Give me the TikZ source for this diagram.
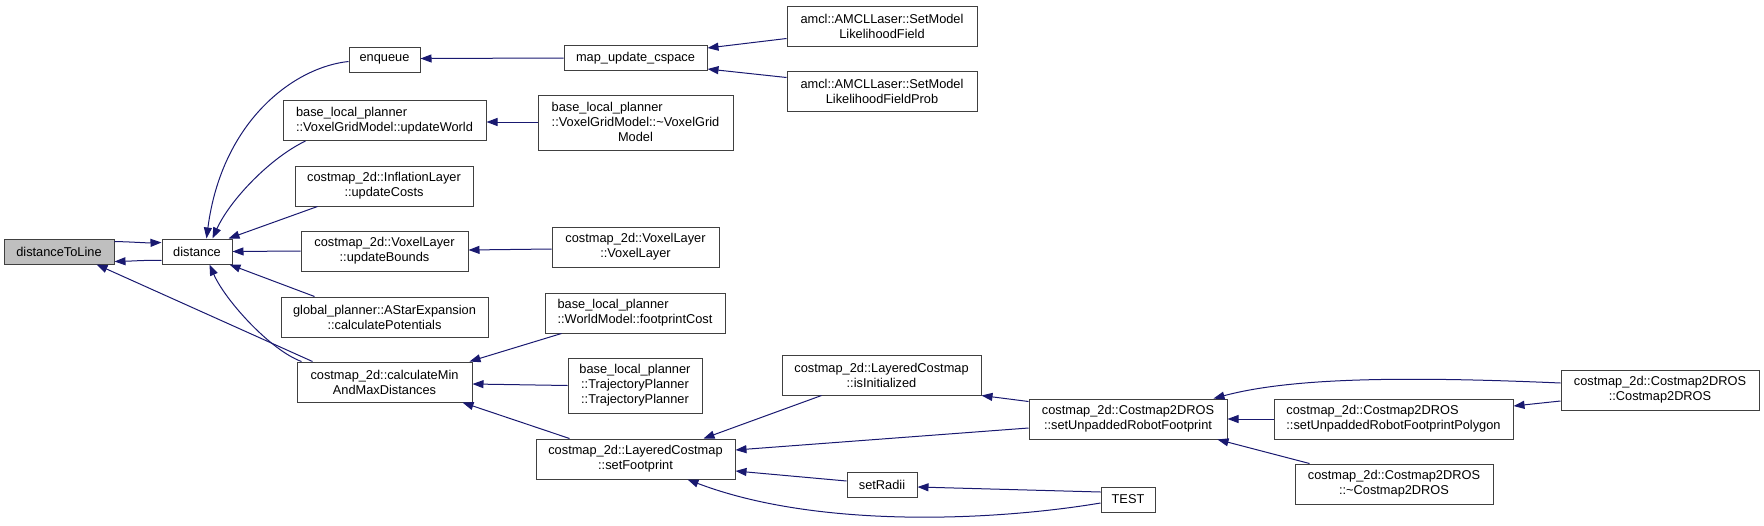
\documentclass[tikz,border=0pt]{standalone}
\usepackage{fontspec}
\setmainfont{Liberation Sans}
\usetikzlibrary{arrows.meta,calc}
\definecolor{edgeblue}{HTML}{191970}
\definecolor{boxline}{HTML}{404040}
\definecolor{curfill}{HTML}{BFBFBF}
\begin{document}
\begin{tikzpicture}[x=1pt,y=-1pt,
  fn/.style={draw=boxline,line width=1pt,fill=white,inner sep=0pt,align=center,
    font=\fontsize{12.8}{15}\selectfont},
  fnl/.style={fn,align=left},
  cur/.style={fn,fill=curfill},
  edge/.style={draw=edgeblue,line width=1pt,-{Triangle[length=11pt,width=8pt]}}]
\useasboundingbox (0,0) rectangle (1764,525);

% nodes
\node[cur,minimum width=110pt,minimum height=25pt] (dtl) at (59,251.5) {distanceToLine};
\node[fn,minimum width=70pt,minimum height=25pt] (dist) at (197,251.5) {distance};
\node[fn,minimum width=71pt,minimum height=25pt] (enq) at (384.5,59.5) {enqueue};
\node[fn,minimum width=143pt,minimum height=25pt] (mup) at (635.5,58) {map\_update\_cspace};
\node[fn,minimum width=190pt,minimum height=40pt] (lf) at (882,26) {amcl::AMCLLaser::SetModel\\LikelihoodField};
\node[fn,minimum width=190pt,minimum height=40pt] (lfp) at (882,91) {amcl::AMCLLaser::SetModel\\LikelihoodFieldProb};
\node[fnl,minimum width=203pt,minimum height=40pt] (uw) at (384.5,120.5) {base\_local\_planner\\::VoxelGridModel::updateWorld};
\node[fn,minimum width=195pt,minimum height=55pt] (vgm) at (635.5,123) {\begin{tabular}{@{}l@{}}base\_local\_planner\\::VoxelGridModel::\textasciitilde VoxelGrid\\\multicolumn{1}{@{}c@{}}{Model}\end{tabular}};
\node[fn,minimum width=178pt,minimum height=40pt] (infl) at (384,186) {costmap\_2d::InflationLayer\\::updateCosts};
\node[fn,minimum width=167pt,minimum height=40pt] (ub) at (384.5,251) {costmap\_2d::VoxelLayer\\::updateBounds};
\node[fn,minimum width=167pt,minimum height=40pt] (vl) at (635.5,247) {costmap\_2d::VoxelLayer\\::VoxelLayer};
\node[fn,minimum width=207pt,minimum height=40pt] (astar) at (384.5,317) {global\_planner::AStarExpansion\\::calculatePotentials};
\node[fn,minimum width=175pt,minimum height=40pt] (cmin) at (384.5,382) {costmap\_2d::calculateMin\\AndMaxDistances};
\node[fnl,minimum width=180pt,minimum height=40pt] (wm) at (635,313) {base\_local\_planner\\::WorldModel::footprintCost};
\node[fn,minimum width=134pt,minimum height=55pt] (tp) at (635,385.5) {base\_local\_planner\\::TrajectoryPlanner\\::TrajectoryPlanner};
\node[fn,minimum width=199pt,minimum height=40pt] (sf) at (635.5,459) {costmap\_2d::LayeredCostmap\\::setFootprint};
\node[fn,minimum width=199pt,minimum height=40pt] (isi) at (881.5,375) {costmap\_2d::LayeredCostmap\\::isInitialized};
\node[fn,minimum width=70pt,minimum height=25pt] (sr) at (882,484.5) {setRadii};
\node[fn,minimum width=198pt,minimum height=40pt] (sur) at (1128,419) {costmap\_2d::Costmap2DROS\\::setUnpaddedRobotFootprint};
\node[fn,minimum width=54pt,minimum height=25pt] (test) at (1128,499.5) {TEST};
\node[fnl,minimum width=239pt,minimum height=40pt] (poly) at (1393.5,419) {costmap\_2d::Costmap2DROS\\::setUnpaddedRobotFootprintPolygon};
\node[fn,minimum width=198pt,minimum height=40pt] (dcm) at (1394,484) {costmap\_2d::Costmap2DROS\\::\textasciitilde Costmap2DROS};
\node[fn,minimum width=198pt,minimum height=40pt] (cm) at (1660,390) {costmap\_2d::Costmap2DROS\\::Costmap2DROS};

% edges (arrow tip at the called function)
\draw[edge] ($(dtl.north east)+(0,3)$) .. controls (135,242) and (145,243) .. ($(dist.north west)+(0,4)$);
\draw[edge] ($(dist.south west)+(0,-4)$) .. controls (145,260) and (135,261) .. ($(dtl.south east)+(0,-3)$);
\draw[edge] ($(cmin.north west)+(16,0)$) -- ($(dtl.south west)+(93,0)$);
\draw[edge] ($(enq.west)+(0,2)$) .. controls (295,67) and (222,120) .. ($(dist.north west)+(45,0)$);
\draw[edge] ($(uw.south west)+(23,0)$) .. controls (270,158) and (230,200) .. ($(dist.north west)+(51,0)$);
\draw[edge] ($(infl.south west)+(23,0)$) -- ($(dist.north east)+(-4,0)$);
\draw[edge] (ub.west) -- (dist.east);
\draw[edge] ($(astar.north west)+(34,0)$) -- ($(dist.south east)+(-3,0)$);
\draw[edge] ($(cmin.north west)+(5,0)$) .. controls (270,350) and (225,300) .. ($(dist.south west)+(48,0)$);
\draw[edge] (mup.west) -- ($(enq.east)+(0,-1)$);
\draw[edge] ($(lf.south west)+(0,-8)$) -- ($(mup.north east)+(0,3)$);
\draw[edge] ($(lfp.north west)+(0,7)$) -- ($(mup.south east)+(0,-2)$);
\draw[edge] ($(vgm.west)+(0,-1)$) -- ($(uw.east)+(0,1.5)$);
\draw[edge] ($(vl.west)+(0,2)$) -- ($(ub.east)+(0,-1)$);
\draw[edge] ($(wm.south west)+(17,0)$) -- ($(cmin.north east)+(-3,0)$);
\draw[edge] (tp.west) -- ($(cmin.east)+(0,2)$);
\draw[edge] ($(sf.north west)+(34,0)$) -- ($(cmin.south east)+(-10,0)$);
\draw[edge] ($(isi.south west)+(40,0)$) -- ($(sf.north east)+(-32,0)$);
\draw[edge] ($(sur.west)+(0,9)$) -- ($(sf.east)+(0,-9)$);
\draw[edge] ($(sr.west)+(0,-3.5)$) -- ($(sf.east)+(0,12)$);
\draw[edge] ($(test.west)+(0,3.5)$) .. controls (1000,520) and (820,530) .. ($(sf.south east)+(-48,0)$);
\draw[edge] ($(test.west)+(0,-7.5)$) -- ($(sr.east)+(0,2.5)$);
\draw[edge] ($(sur.north west)+(0,3)$) -- (isi.south east);
\draw[edge] (poly.west) -- (sur.east);
\draw[edge] ($(dcm.north west)+(15,0)$) -- ($(sur.south east)+(-10,0)$);
\draw[edge] ($(cm.west)+(0,-7)$) .. controls (1400,376) and (1290,378) .. ($(sur.north east)+(-14,0)$);
\draw[edge] ($(cm.west)+(0,11)$) -- ($(poly.east)+(0,-13)$);
\end{tikzpicture}
\end{document}
